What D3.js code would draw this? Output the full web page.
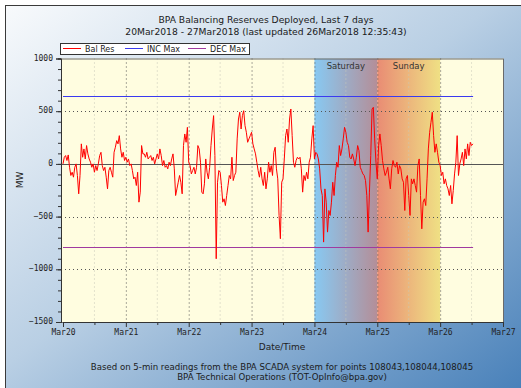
<!DOCTYPE html>
<html><head><meta charset="utf-8">
<script src="https://cdn.jsdelivr.net/npm/d3@7"></script>
<style>html,body{margin:0;padding:0;background:#fff;}svg{display:block;}</style>
</head><body>
<script>
// ---------- DATA ----------
const titleLines = ["BPA Balancing Reserves Deployed, Last 7 days",
  "20Mar2018 - 27Mar2018 (last updated 26Mar2018 12:35:43)"];
const seriesNames = ["Bal Res", "INC Max", "DEC Max"];
const seriesColors = ["#ff0000", "#3a3af0", "#a03aa0"];
const startTime = new Date(2018, 2, 20, 0, 0);
const endTime = new Date(2018, 2, 27, 0, 0);
const lastUpdated = new Date(2018, 2, 26, 12, 35);
const stepMinutes = 30;
const yTicks = [-1500, -1000, -500, 0, 500, 1000];
const incMax = 648;
const decMax = -785;
const weekendDays = [{label: "Saturday", day: 24}, {label: "Sunday", day: 25}];
// Bal Res values (MW), every 30 min from 20Mar 00:00
const balRes = [
  0, 63, 79, 32, 85, -32, -110, -79, -126, -32, 0, -110, -284, -110, 190, 63, 142, 47, 174, 95,
  47, 16, -32, 0, -79, -16, -63, 0, 79, 110, -16, -63, -32, -126, -237, -63, -32, -79, -126, 110,
  158, 221, 190, 268, 142, 63, 110, 32, 63, 16, 47, -16, 0, -63, -142, -126, -205, -79, -363, -268,
  174, 95,
  95, 63, 110, 47, 63, 79, 32, 63, 0, 47, 95, 47, 142, 79, -16, 32, -32, -16, -47, 16,
  -16, 47, 95, -47, -300, -237, -174, -110, -174, -284, 174, 284, 205, 347, 16, -16, -95, -63, -32, -95,
  -32, 174, 142, 16, -268, -284, -189, 47, -79, -142, -32, 174, 331, 458, 79, -900, -174, -63, -79,
  -205, -363, -331, -395, -300, -205, -110, -142, 63, -158, -110, -79, 237, 426, 490, 331, 458, 505, 363, 300,
  205, 237, 268, 300, 190, 142, 95, 16, -63, -126, -32, -142, -205, -79, -237, -142, 16, -79, -16, -110,
  110, 158, -47, -142, -489, -710, -174, -142, 47, 268, 331, 205, 426, 521, 268, 16, -32, 32, 63, 47,
  63, -47, -268, -110, -158, -79, -142, 16, 63, 237, 363, 47, 110, 95, 47, -47, -237, -300, -742, -237,
  -363, -647, -442, -489, -363, -174, -300, -110, 16, -32, 174, 79, 142, 237, 347, 300, 205, 174, 63, 47,
  95, 47, -16, 63, 174, 126, -32, -63, -95, -110, -158, -300, -647, -268, 79, 521, 537, 237, 16, -142,
  174,
  284, 174, 32, -47, -110, -79, -32, -142, -237, -47, 32, -16, -32, 16, -95, -16, -47, -142, -174, -442,
  -142, -110, -300, -489, -142, -189, -142, -205, -268, -16, 47, -300, -616, -363, -331, -395, -142, 142, 300, 395,
  490, 268, 110, 190, 110, 16, -16, -110, -79, -189, -142, -205, -237, -300, -205, -379, -253, -95, 16, 268,
  -110, 0, 47, 110, -16, 142, 47, 190, 79, 205, 174, 190
];
const xAxisTitle = "Date/Time";
const yAxisTitle = "MW";
const footerLines = ["Based on 5-min readings from the BPA SCADA system for points 108043,108044,108045",
  "BPA Technical Operations (TOT-OpInfo@bpa.gov)"];

// ---------- CHART ----------
const W = 521, H = 388;
const svg = d3.select("body").append("svg").attr("width", W).attr("height", H);
const defs = svg.append("defs");
const bg = defs.append("linearGradient").attr("id", "bg").attr("x1", 0).attr("y1", 0).attr("x2", 1).attr("y2", 1);
bg.append("stop").attr("offset", 0).attr("stop-color", "#f8fafc");
bg.append("stop").attr("offset", 0.45).attr("stop-color", "#b9cfe4");
bg.append("stop").attr("offset", 1).attr("stop-color", "#3f7ab6");
const sat = defs.append("linearGradient").attr("id", "sat");
sat.append("stop").attr("offset", 0).attr("stop-color", "#88c9f2");
sat.append("stop").attr("offset", 1).attr("stop-color", "#b48e98");
const sun = defs.append("linearGradient").attr("id", "sun");
sun.append("stop").attr("offset", 0).attr("stop-color", "#e98c74");
sun.append("stop").attr("offset", 1).attr("stop-color", "#efe084");

svg.append("rect").attr("x", 5.5).attr("y", 5.5).attr("width", 540).attr("height", 400)
  .attr("fill", "url(#bg)").attr("stroke", "#3a3a3a");

const font = "'DejaVu Sans', Verdana, sans-serif";
const mono = "'DejaVu Sans Mono', monospace";

svg.selectAll("text.title").data(titleLines).enter().append("text")
  .attr("x", 266).attr("y", (d, i) => 23 + i * 12).attr("text-anchor", "middle")
  .attr("font-family", font).attr("font-size", 9.2).attr("fill", "#1a1a1a").text(d => d);

const x = d3.scaleTime().domain([startTime, endTime]).range([63, 503]);
const y = d3.scaleLinear().domain([-1500, 1000]).range([322, 58.5]);
const pL = 61, pR = 504, pT = 58.5, pB = 322;

// plot background
svg.append("rect").attr("x", pL).attr("y", pT).attr("width", pR - pL).attr("height", pB - pT).attr("fill", "#fffde0");
// weekend bands
weekendDays.forEach((w, i) => {
  const a = x(new Date(2018, 2, w.day)), b = x(new Date(2018, 2, w.day + 1));
  svg.append("rect").attr("x", a).attr("y", pT).attr("width", b - a).attr("height", pB - pT)
    .attr("fill", i === 0 ? "url(#sat)" : "url(#sun)");
  svg.append("text").attr("x", (a + b) / 2).attr("y", 69).attr("text-anchor", "middle")
    .attr("font-family", font).attr("font-size", 8.5).attr("fill", "#333").text(w.label);
});

// grid
const days = d3.timeDay.range(startTime, d3.timeDay.offset(endTime, 1));
const halfDays = d3.timeHour.every(12).range(startTime, endTime).filter(d => d.getHours() === 12);
svg.append("g").selectAll("line").data(halfDays).enter().append("line")
  .attr("x1", d => x(d)).attr("x2", d => x(d)).attr("y1", pT).attr("y2", pB)
  .attr("stroke", "#c8c8b8").attr("stroke-dasharray", "1,3");
svg.append("g").selectAll("line").data(days.filter(d => d > startTime && d < endTime)).enter().append("line")
  .attr("x1", d => x(d) + 0.5).attr("x2", d => x(d) + 0.5).attr("y1", pT).attr("y2", pB)
  .attr("stroke", "#555").attr("stroke-dasharray", "1,3");
svg.append("g").selectAll("line").data(yTicks.filter(v => v !== 0 && v > -1500 && v < 1000)).enter().append("line")
  .attr("x1", pL).attr("x2", pR).attr("y1", d => Math.round(y(d)) + 0.5).attr("y2", d => Math.round(y(d)) + 0.5)
  .attr("stroke", "#555").attr("stroke-dasharray", "1,3");
// zero line
svg.append("line").attr("x1", pL).attr("x2", pR).attr("y1", Math.round(y(0)) + 0.5).attr("y2", Math.round(y(0)) + 0.5)
  .attr("stroke", "#555").attr("stroke-width", 1);

// limit lines
[[incMax, seriesColors[1]], [decMax, seriesColors[2]]].forEach(([v, c]) => {
  svg.append("line").attr("x1", x(startTime)).attr("x2", x(lastUpdated))
    .attr("y1", Math.round(y(v)) + 0.5).attr("y2", Math.round(y(v)) + 0.5).attr("stroke", c).attr("stroke-width", 1);
});

// Bal Res line
const pts = balRes.map((v, i) => ({t: new Date(startTime.getTime() + i * stepMinutes * 60000), v}));
svg.append("path").datum(pts).attr("fill", "none").attr("stroke", seriesColors[0]).attr("stroke-width", 1)
  .attr("d", d3.line().x(d => x(d.t)).y(d => y(d.v)));

// plot border
svg.append("rect").attr("x", pL + 0.5).attr("y", pT + 0.5).attr("width", pR - pL - 1).attr("height", pB - pT)
  .attr("fill", "none").attr("stroke", "#6a6a6a");

// axes
const yAxis = svg.append("g").attr("transform", `translate(${pL},0)`)
  .call(d3.axisLeft(y).tickValues(yTicks).tickSize(5).tickPadding(3).tickFormat(d3.format("d")));
const yMinor = svg.append("g").attr("transform", `translate(${pL},0)`)
  .call(d3.axisLeft(y).tickValues(d3.range(-1500, 1001, 100)).tickSize(3).tickFormat(""));
const xAxis = svg.append("g").attr("transform", `translate(0,${pB})`)
  .call(d3.axisBottom(x).tickValues(days).tickSize(5).tickPadding(2).tickFormat(d3.timeFormat("%b%d")));
const xMinor = svg.append("g").attr("transform", `translate(0,${pB})`)
  .call(d3.axisBottom(x).tickValues(halfDays).tickSize(3).tickFormat(""));
[yAxis, yMinor, xAxis, xMinor].forEach(g => {
  g.select(".domain").attr("stroke", "#333");
  g.selectAll(".tick line").attr("stroke", "#333");
  g.selectAll("text").attr("font-family", mono).attr("font-size", 8).attr("fill", "#222");
});
yAxis.selectAll("text").attr("dy", "0.2em");

svg.append("text").attr("transform", "translate(23,180) rotate(-90)").attr("text-anchor", "middle")
  .attr("font-family", font).attr("font-size", 9).attr("fill", "#222").text(yAxisTitle);
svg.append("text").attr("x", 282).attr("y", 350).attr("text-anchor", "middle")
  .attr("font-family", font).attr("font-size", 9).attr("fill", "#222").text(xAxisTitle);
svg.selectAll("text.foot").data(footerLines).enter().append("text")
  .attr("x", 282).attr("y", (d, i) => 370 + i * 10).attr("text-anchor", "middle")
  .attr("font-family", font).attr("font-size", 8.6).attr("fill", "#1a1a1a").text(d => d);

// legend
const lg = svg.append("g");
lg.append("rect").attr("x", 60.5).attr("y", 43.5).attr("width", 189).attr("height", 11)
  .attr("fill", "#fff").attr("stroke", "#333");
const lx = [63, 125, 188];
seriesNames.forEach((n, i) => {
  lg.append("line").attr("x1", lx[i]).attr("x2", lx[i] + 18).attr("y1", 48.5).attr("y2", 48.5)
    .attr("stroke", seriesColors[i]);
  lg.append("text").attr("x", lx[i] + 22).attr("y", 52).attr("font-family", font).attr("font-size", 8)
    .attr("fill", "#222").text(n);
});
</script>
</body></html>
